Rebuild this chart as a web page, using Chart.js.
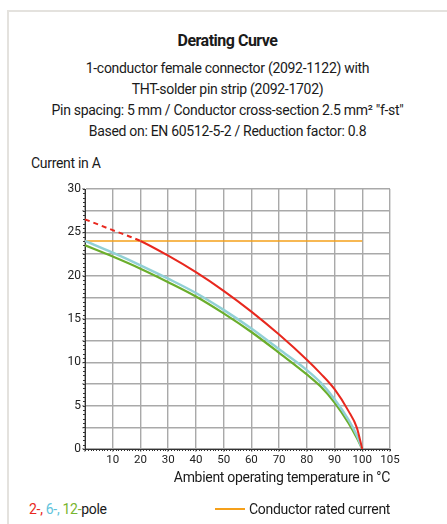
<!DOCTYPE html>
<html>
<head>
<meta charset="utf-8">
<script src="https://cdn.jsdelivr.net/npm/chart.js@4.4.1/dist/chart.umd.min.js"></script>
<style>
    body {
        margin: 0;
        width: 447px;
        height: 524px;
        background: #fff;
        position: relative;
        overflow: hidden;
        font-family: Roboto, "Noto Sans", sans-serif;
        color: #1a1a1a;
    }
    .frame {
        position: absolute;
        left: 7px;
        top: 10px;
        width: 460px;
        height: 540px;
        border-left: 2px solid #e4e2de;
        border-top: 2px solid #e4e2de;
    }
    .txt {
        position: absolute;
        white-space: nowrap;
        line-height: 1;
        letter-spacing: -0.3px;
    }
    #title {
        left: 0; width: 455px; text-align: center;
        top: 33px; font-size: 16px; font-weight: bold;
        letter-spacing: -0.5px;
    }
    .sub {
        left: 0; width: 455px; text-align: center;
        font-size: 14px;
    }
    #yTitle { left: 31px; top: 156px; font-size: 14px; }
    #xTitle { right: 57px; top: 470px; font-size: 14px; }
    #legend1 { left: 29px; top: 502px; font-size: 14px; }
    #legend2 { left: 215px; top: 502px; font-size: 14px; }
    #legend2 span.swatch {
        display: inline-block; width: 30px; height: 0;
        border-top: 2px solid #f5a01a; vertical-align: middle;
        margin-right: 4px; position: relative; top: -1px;
    }
    #chartBox {
        position: absolute;
        left: 0; top: 180px;
        width: 447px; height: 310px;
    }
</style>
</head>
<body>
<div class="frame"></div>

<div class="txt" id="title">Derating Curve</div>
<div class="txt sub" style="top:61px">1-conductor female connector (2092-1122) with</div>
<div class="txt sub" style="top:82px">THT-solder pin strip (2092-1702)</div>
<div class="txt sub" style="top:103px">Pin spacing: 5 mm / Conductor cross-section 2.5 mm² "f-st"</div>
<div class="txt sub" style="top:124px">Based on: EN 60512-5-2 / Reduction factor: 0.8</div>
<div class="txt" id="yTitle">Current in A</div>

<div id="chartBox"><canvas id="derating"></canvas></div>

<div class="txt" id="xTitle">Ambient operating temperature in °C</div>
<div class="txt" id="legend1"><span style="color:#e8281e">2-, </span><span style="color:#62c3dc">6-, </span><span style="color:#78b530">12-</span>pole</div>
<div class="txt" id="legend2"><span class="swatch"></span>Conductor rated current</div>

<script>
// ===============================
// DATA
// ===============================
const temps = [0, 10, 20, 30, 40, 50, 60, 70, 80, 85, 90, 95, 98, 100];

const pole2 = [26.5, 25.25, 24.0, 22.3, 20.4, 18.25, 15.85, 13.2, 10.3, 8.7, 6.9, 4.4, 2.5, 0];
const pole6 = [24.0, 22.65, 21.2, 19.65, 18.0, 16.05, 13.9, 11.5, 9.1, 7.65, 5.75, 3.4, 1.6, 0];
const pole12 = [23.5, 22.2, 20.8, 19.25, 17.6, 15.65, 13.5, 11.1, 8.6, 7.2, 5.35, 3.0, 1.3, 0];

const ratedTemps = [0, 100];
const ratedCurrent = [24, 24];

// dashed part of the 2-pole curve ends here
const dashLimit = 20;

// the last column in the original is as wide as the others but labelled 105
const xTickValues = [0, 10, 20, 30, 40, 50, 60, 70, 80, 90, 100, 110];
const xTickLabels = ["", "10", "20", "30", "40", "50", "60", "70", "80", "90", "100", "105"];

const FONT = 'Roboto, "Noto Sans", sans-serif';

function toPoints(xs, ys) {
    return xs.map((x, i) => ({ x: x, y: ys[i] }));
}

// small dotted ticks along both axes
const minorTicks = {
    id: "minorTicks",
    afterDraw(chart) {
        const ctx = chart.ctx;
        const xs = chart.scales.x;
        const ys = chart.scales.y;
        const area = chart.chartArea;
        ctx.save();
        ctx.strokeStyle = "#333";
        ctx.lineWidth = 1;
        ctx.beginPath();
        for (let v = 0; v <= xs.max; v += 1) {
            const px = Math.round(xs.getPixelForValue(v)) + 0.5;
            ctx.moveTo(px, area.bottom);
            ctx.lineTo(px, area.bottom + 2);
        }
        for (let v = 0; v <= ys.max; v += 0.5) {
            const py = Math.round(ys.getPixelForValue(v)) + 0.5;
            ctx.moveTo(area.left - 2, py);
            ctx.lineTo(area.left, py);
        }
        ctx.stroke();
        ctx.restore();
    }
};

// ===============================
// CHART
// ===============================
const ctx = document.getElementById("derating").getContext("2d");

new Chart(ctx, {
    type: "line",
    data: {
        datasets: [
            {
                label: "Conductor rated current",
                data: toPoints(ratedTemps, ratedCurrent),
                borderColor: "#f5a01a",
                borderWidth: 1.5,
                pointRadius: 0,
                order: 4
            },
            {
                label: "12-pole",
                data: toPoints(temps, pole12),
                borderColor: "#6bae2c",
                borderWidth: 2.2,
                pointRadius: 0,
                cubicInterpolationMode: "monotone",
                order: 3
            },
            {
                label: "6-pole",
                data: toPoints(temps, pole6),
                borderColor: "#92d0d6",
                borderWidth: 2.5,
                pointRadius: 0,
                cubicInterpolationMode: "monotone",
                order: 2
            },
            {
                label: "2-pole",
                data: toPoints(temps, pole2),
                borderColor: "#e8281e",
                borderWidth: 2,
                pointRadius: 0,
                cubicInterpolationMode: "monotone",
                segment: {
                    borderDash: c => c.p1.parsed.x <= dashLimit ? [5, 4] : undefined
                },
                order: 1
            }
        ]
    },
    options: {
        responsive: true,
        maintainAspectRatio: false,
        animation: false,
        layout: {
            padding: { top: 9, right: 57, bottom: 0, left: 0 }
        },
        plugins: {
            legend: { display: false },
            tooltip: { enabled: false }
        },
        scales: {
            x: {
                type: "linear",
                min: 0,
                max: 110,
                afterBuildTicks: scale => {
                    scale.ticks = xTickValues.map(v => ({ value: v }));
                },
                afterFit: scale => { scale.height = 41; },
                ticks: {
                    autoSkip: false,
                    maxRotation: 0,
                    padding: 1,
                    color: "#222",
                    font: { family: FONT, size: 11.5 },
                    callback: (v, i) => xTickLabels[i]
                },
                grid: {
                    color: "#a9a9a9",
                    lineWidth: 1.4,
                    tickLength: 3
                },
                border: { color: "#333", width: 1 }
            },
            y: {
                min: 0,
                max: 30,
                afterFit: scale => { scale.width = 85; },
                ticks: {
                    stepSize: 2.5,
                    padding: 1,
                    color: "#222",
                    font: { family: FONT, size: 12 },
                    callback: v => (v % 5 === 0 ? v : "")
                },
                grid: {
                    color: "#a9a9a9",
                    lineWidth: 1.4,
                    tickLength: 3
                },
                border: { color: "#333", width: 1 }
            }
        }
    },
    plugins: [minorTicks]
});
</script>
</body>
</html>
